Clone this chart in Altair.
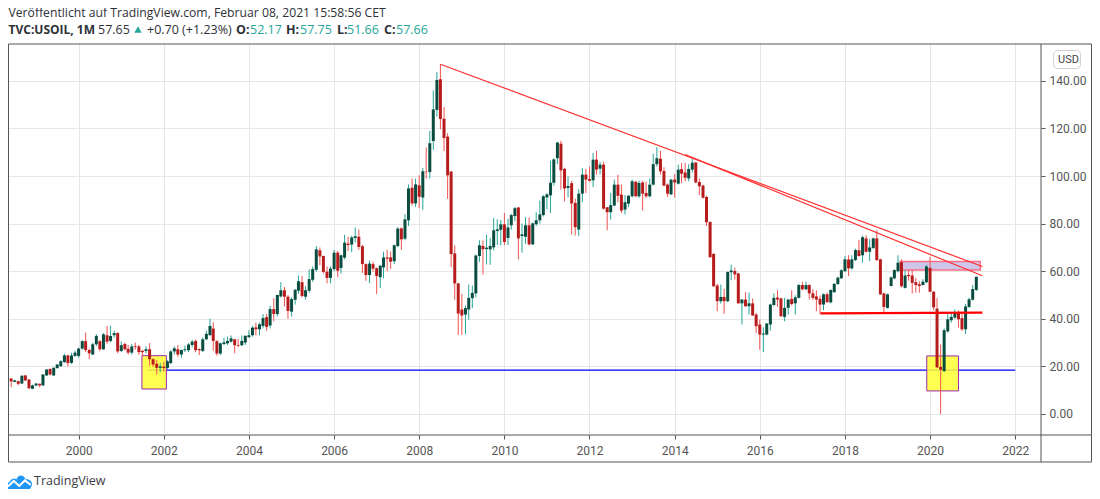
import altair as alt
import pandas as pd

# Monthly candles, May 1998 .. Feb 2021
opens = [
 15.6,14.9,13.5,13.8,12.8,16.2,14.5,10.6,
 12,12.7,12,16.2,18.9,16.2,19.3,20.1,21.8,24.6,21.5,24.4,
 24.4,27.5,30.6,26.9,25,29.3,30.6,27.2,33.1,30.7,33.1,34,
 26.5,29.4,27.4,25.8,28.6,28.4,26.5,26.5,27.2,23,21.1,19.4,
 19.9,19.3,21.4,26.3,27.2,25,26.8,26.8,29,30.7,27.3,26.5,
 31.4,33.1,35.9,30.6,25.4,29.4,29.7,30.4,31.4,29,28.9,30,
 32.3,33.1,36.4,35.6,37,40.7,37.2,44.1,42,49.4,52,49.3,
 43,48,51.8,55.4,49.3,51.8,56.4,60.6,68.8,66.4,59.8,57.2,
 60.9,67.8,61.4,65.7,71.6,71.2,74,74.5,70.5,63,58.4,63,
 61.3,57.5,61.6,65.8,65.8,64.2,70.6,78,73.7,81.4,95.1,88.5,
 96.1,91,101.8,101.7,114.7,127.8,140.7,124.1,116.6,101.9,67.5,54.9,
 43.9,41.8,43.9,48.7,50.7,66.4,70.6,69.3,69.2,70,76.9,77.4,
 79.7,74,79.3,83.2,86.8,74.8,74.5,79.3,71.3,79.8,81.4,83.6,
 91,91.9,97.2,107.5,113.6,103,95,97,88.7,77.5,92.6,100.6,
 98.7,98.2,106.9,103.1,104.8,86.9,84.8,87.6,96.4,92.2,85.9,88.4,
 91.5,97.6,91.5,97.3,92.9,91.5,96.4,105,107.3,102.1,96.4,92.3,
 98.5,96.8,102.9,101.5,99,102.7,105.7,97.5,96,91.2,80.7,67.3,
 54,47.4,49.2,47.4,59.6,60.1,59.1,46.5,48.1,45.3,46.5,41.8,
 37.6,33.4,33.4,37.6,45.8,48.9,48.6,40.8,44.6,48.4,46.5,48.8,
 54.2,52.4,54.2,50.7,49.4,48.4,46,50.3,46.9,51.2,54.6,57,
 60,64.9,61.2,64.7,68.8,66.7,73.8,68.2,69.8,73.8,65,50.7,
 44.6,53.8,57,60,63.8,53,58.5,58.2,55.4,54.5,54.2,55.4,
 61.4,51.4,44.3,19.8,18,34.7,39.4,40.5,42.7,40.3,35.6,45,
 48,52.17]
closes = [
 14.5,13.7,14.1,12.7,16.1,14.1,10.8,12,
 12.8,12,16.6,18.7,16.6,19.4,20.8,22.2,24.6,21.4,24.6,25.8,
 27.5,30.6,26.9,25.5,29.3,32.8,27.2,33.5,30.4,32.8,34,26.3,
 28.9,27.2,25.8,28.4,28.3,26,26,27.2,23,20.8,19.4,20,
 19.3,22.1,26.3,27.6,25,26.9,27.2,29.2,30.4,26.8,26.8,31.4,
 33.7,37,30.7,25.4,29.7,30.1,30.7,31.8,28.9,28.7,30.7,32.8,
 33.1,36.3,35.6,37.7,40.3,36.6,44.1,42,50,52,49.3,43.3,
 48.3,52.2,55.8,49.6,52,56.7,60.9,69.2,66.2,59.7,57.2,61.1,
 67.8,60.2,66.7,72,71,74.2,74.7,70.2,63,58.4,63.2,61.1,
 58,62.3,65.8,65.3,64,70.9,77.9,73.4,81.8,94.8,88.5,96.5,
 91.3,102,101.6,113.8,128,140.4,124,116,100.3,67.2,54.9,42.2,
 41.4,44.5,48.8,50.9,66.6,70.9,69.2,69.9,70.6,77.2,77.6,79.7,
 72.3,78.4,83.6,86.5,73.8,75.5,79.3,71.3,80.1,81.4,83.9,91.5,
 92.3,97.2,107,114.1,102.4,94.8,95.8,88.5,78.5,92.6,100.6,98.5,
 98,106.9,102.7,104.8,86.3,84.8,87.8,96.4,91.7,85.5,89,91.7,
 97.8,91.5,97.1,92.6,91.5,96.4,105,107.5,102,96,92.6,98.5,
 97.3,102.7,101,99.3,103,105.6,97.3,95.7,90.9,80.6,65.9,53.7,
 47.4,49.2,47.4,59.7,60.3,58.7,46.5,48.1,45.3,46.5,41.4,36.9,
 33.4,33.8,38,46,48.8,48.1,41.1,44.6,48.1,46.2,49,54.2,
 52.4,54.2,50.7,48.8,48.1,46,50.3,47,52.1,54.7,57.3,60.4,
 65,61.2,65,68.9,66.4,74.3,68.2,70,73.8,64.7,50.3,45,
 50.3,57.4,60.5,63.6,53.7,58.2,57.9,55.1,54.2,53.8,55.6,62,
 51.4,44.8,19.6,18.6,35.2,39.8,40.8,42.7,39.8,35.6,45.2,48.2,
 52.5,57.66]
highs = [
 15.9,15.1,14.4,14,16.2,16.4,14.6,12.3,
 13.1,12.8,16.8,18.9,19.2,19.6,21,22.6,25.3,25,25.7,26.6,
 27.9,31,34.2,27.5,29.9,33.6,31,34,37,37.1,35,34.4,
 30.5,30,29,29.5,30,29,27,28.5,29.8,23.5,22.7,21.5,
 22,22.6,26.8,28.5,29,27.1,28.7,29.8,31.2,31.3,27.6,32.2,
 35,40,38.5,31,30,32,32.5,33,31.5,31.5,33,33.2,
 35.2,37,38.4,38.4,42,42,45.5,48.7,50.2,55.4,53.4,50,
 49,52.5,58.2,58,53.8,60.8,62,70.6,70,66.6,62,62,
 69,68.5,67,75.3,74.5,74.9,78.3,77.5,71,63.3,64.5,64,
 61.5,62.6,68.2,69,68.3,71.2,78.5,78.4,84,96.5,99,99,
 100.3,103.4,112,119,136,143.7,147,129,118,102,70.8,55,
 50.5,45.5,54.4,54,67,73,73,75.4,74,82.3,81.8,81.5,
 84.5,82,84.2,87,87,80,82.7,82.6,80.5,84.8,89.7,92,
 92.8,106.5,107.5,114.3,114.8,103.5,99.8,98,90.5,94.5,103.4,103,
 104,109.7,110.6,106,106,87,92.9,98.5,100.6,96.4,92,92,
 98.5,98,98,98,97.6,99,109.4,112.2,110.6,103.7,96.9,98.8,
 100.8,104.8,105.5,105.5,105,107.5,106,99,96.4,91.8,81,67.5,
 54.7,54.4,52.6,59.9,62.8,61.5,59.3,48.3,51.2,51,48.6,42.5,
 39.7,36.5,38.3,46.4,50.7,52,48.9,48.8,48.4,52,49.9,54.7,
 55.6,55.6,54.5,52.4,52,49.8,50.7,51,52.4,55,57.7,60.8,
 66.4,66.7,66.7,69.5,73.1,74.9,75.1,73.5,74.1,77.2,65.3,51,
 50.6,57.8,60.8,66.7,65,60.5,60.5,60.7,57.2,55.8,56.7,62.7,
 66,51.6,48.7,29.2,35.9,41.9,42.5,44,43.6,42.5,46.2,48.9,
 54.2,57.75]
lows = [
 14.4,11.3,13.4,12.1,12.7,13.9,10.6,10.4,
 11.6,11.2,11.9,16,16.2,16,19,19.8,21.5,20,21,24,
 23.6,27,26,23,24.8,28.5,26.5,27,29.5,30,32,25.5,
 26,26.7,25,25,27,25,24.5,25.5,20.3,19.8,16.6,17.5,
 17.8,19,21,25,24,23.6,26,26,28,26,24.8,26,
 31,33,26.6,24.5,24.8,29,29,30,25.5,28,28.5,29,
 32,32.5,33,33,36,35,36,39,41,49,45.2,40,
 41,46,50.5,49,48,51,55.5,59.8,62.5,59,54.9,55,
 60,57.5,59,65,68.5,68,72,69,59.3,56,55,59.8,
 50.4,53,57,60,61,63,70,69,73,79,87.6,87,
 86.5,85.8,98.9,99,111,125,119.7,110.5,90.4,61.7,48,33.3,
 33.3,33.5,39.6,44.5,49,63.9,58.6,62.8,62.7,68.8,71,70.8,
 71,71,77.5,81,65,67.8,71.5,70.8,71,79,80,83,
 86,84.5,96,105,94.3,89.4,91,75.4,75,74.7,89,92.9,
 97.8,95.4,100.6,100.8,86,77.2,81.7,87.3,89,84.5,83.8,87,
 91,91.2,90.8,85.5,90.8,91,96,104,100.6,95.7,91.2,92,
 91,96.4,97,97.8,97.8,101.5,97,92,90.5,79,65.6,53.4,
 43.2,46.4,42.1,47,56.2,56.5,46.4,37.6,45,41.8,41.2,34,
 27,26,33,35,45.4,45,40.8,39,41.8,45.6,41.8,48.6,
 52,52,48.1,48,43.2,42.1,43.6,46.7,46.5,50.9,54.3,56.9,
 59.8,58,60.7,64.3,66.1,63.6,67.8,64.3,69.3,64.3,50,42.5,
 44.3,53.6,56.7,59.5,53.2,52.7,56,50.7,51,51,54,55,
 51.2,43.6,19.3,0,17.7,34.2,38.4,40,36.3,34.9,33.6,44.6,
 47.7,51.66]

dates = pd.date_range("1998-05-01", periods=len(closes), freq="MS").strftime("%Y-%m-%d").tolist()

# Drawings on the chart
red_lines = [
 {"d1": "2008-07-01", "d2": "2021-03-25", "p1": 147.0, "p2": 62.0},
 {"d1": "2014-04-01", "d2": "2021-03-25", "p1": 109.0, "p2": 58.1},
]
support_line = [{"d1": "2017-06-04", "d2": "2021-03-25", "p1": 42.3, "p2": 42.6}]
blue_line = [{"d1": "2001-08-15", "d2": "2022-01-01", "p1": 18.46, "p2": 18.46}]
yellow_boxes = [
 {"d1": "2001-06-27", "d2": "2002-01-23", "p1": 24.5, "p2": 10.5},
 {"d1": "2019-12-04", "d2": "2020-09-01", "p1": 24.4, "p2": 9.7},
]
pink_box = [{"d1": "2019-04-20", "d2": "2021-03-07", "p1": 64.1, "p2": 60.5}]

y_ticks = [0, 20, 40, 60, 80, 100, 120, 140]

header_line = "Veröffentlicht auf TradingView.com, Februar 08, 2021 15:58:56 CET"
TEAL = "#26a69a"
DARK = "#2e3138"
quote_parts = [
 ("TVC:USOIL, 1M", 8.5, True, DARK, 12), ("57.65", 98, False, DARK, 12.5),
 ("+0.70 (+1.23%)", 147, False, DARK, 12.5), ("O:", 236, True, DARK, 12.5), ("52.17", 250, False, TEAL, 12.5),
 ("H:", 286, True, DARK, 12.5), ("57.75", 300, False, TEAL, 12.5), ("L:", 337, True, DARK, 12.5),
 ("51.66", 347, False, TEAL, 12.5), ("C:", 384, True, DARK, 12.5), ("57.66", 396, False, TEAL, 12.5),
]

UI_FONT = "Open Sans"
AX_FONT = "Roboto"
X0, Y0 = 8, 44   # page position of the plot's origin
W, H = 1033, 391

xs = alt.Scale(type="utc", domain=["1998-05-05", "2022-08-10"], nice=False, padding=0)
ys = alt.Scale(domain=[-8.83, 155.5], nice=False, zero=False)

x_axis = alt.Axis(
    format="%Y", tickCount=alt.TickCount(interval="year", step=2), grid=True, gridColor="#e6e6e6",
    gridWidth=1, domain=False, tickColor="#555555", tickSize=4, labelPadding=6, title=None,
    labelFont=AX_FONT, labelFontSize=12, labelColor="#555555", labelOverlap=False)
y_axis = alt.Axis(
    orient="right", values=y_ticks, format=".2f", grid=True, gridColor="#e6e6e6", gridWidth=1,
    domain=False, tickColor="#555555", tickSize=4, labelPadding=4, title=None,
    labelFont=AX_FONT, labelFontSize=12, labelColor="#555555")

df = pd.DataFrame({"d": dates, "o": opens, "h": highs, "l": lows, "c": closes})
df["wick"] = [("#26a69a" if c >= o else "#ef5350") for o, c in zip(opens, closes)]
df["body"] = [("#0a4d40" if c >= o else "#b71c1c") for o, c in zip(opens, closes)]


def spans(rows):
    return alt.Chart(alt.Data(values=rows)).transform_calculate(
        a="toDate(datum.d1)", b="toDate(datum.d2)")


def rule_layer(rows, color, width):
    return spans(rows).mark_rule(color=color, strokeWidth=width).encode(
        x=alt.X("a:T", scale=xs, axis=x_axis), x2="b:T",
        y=alt.Y("p1:Q", scale=ys, axis=y_axis), y2="p2:Q")


def box_layer(rows, fill, stroke, fo, sw):
    return spans(rows).mark_rect(fill=fill, stroke=stroke, fillOpacity=fo, strokeWidth=sw).encode(
        x=alt.X("a:T", scale=xs, axis=x_axis), x2="b:T",
        y=alt.Y("p1:Q", scale=ys, axis=y_axis), y2="p2:Q")


one = pd.DataFrame({"a": [0]})


def label(text, px, py, size=12, bold=False, color=DARK, font=UI_FONT):
    return alt.Chart(one).mark_text(
        text=text, align="left", baseline="middle", fontSize=size, font=font,
        fontWeight="bold" if bold else "normal", color=color,
    ).encode(x=alt.value(px - X0), y=alt.value(py - Y0))


def frame(x1, x2, y1, y2):
    return alt.Chart(one).mark_rule(color="#555555", strokeWidth=1).encode(
        x=alt.value(x1 - X0), x2=alt.value(x2 - X0), y=alt.value(y1 - Y0), y2=alt.value(y2 - Y0))


wicks = alt.Chart(df).mark_rule(strokeWidth=1).encode(
    x=alt.X("d:T", scale=xs, axis=x_axis),
    y=alt.Y("h:Q", scale=ys, axis=y_axis), y2="l:Q",
    color=alt.Color("wick:N", scale=None))
bodies = alt.Chart(df).mark_bar(size=3).encode(
    x=alt.X("d:T", scale=xs, axis=x_axis),
    y=alt.Y("o:Q", scale=ys, axis=y_axis), y2="c:Q",
    color=alt.Color("body:N", scale=None))

header = [label(header_line, 8.5, 13, size=12.2)]
for text, px, bold, color, size in quote_parts:
    header.append(label(text, px, 30, size=size, bold=bold, color=color))
triangle = alt.Chart(one).mark_point(shape="triangle-up", filled=True, color=TEAL, size=55, opacity=1).encode(
    x=alt.value(138 - X0), y=alt.value(29.5 - Y0))

usd_box = alt.Chart(one).mark_rect(fill="white", stroke="#d0d0d4", cornerRadius=4).encode(
    x=alt.value(1053.5 - X0), x2=alt.value(1080.5 - X0), y=alt.value(50.5 - Y0), y2=alt.value(68.5 - Y0))
usd_text = label("USD", 1058, 59.5, size=11, color="#444444", font=AX_FONT)

cloud = alt.Chart(one).mark_point(
    shape="M-0.8,0.55 C-1.05,0.55 -1.05,0.05 -0.72,0 C-0.6,-0.3 -0.3,-0.3 -0.2,-0.2 C-0.1,-0.6 0.4,-0.6 0.5,-0.2 C0.9,-0.25 1.1,0.1 0.95,0.35 C0.9,0.5 0.85,0.55 0.75,0.55 Z",
    filled=True, color="#2196f3", size=676, opacity=1,
).encode(x=alt.value(19 - X0), y=alt.value(482 - Y0))
zigzag = alt.Chart(one).mark_point(
    shape="M-0.85,0.35 L-0.4,-0.08 L0.02,0.3 L0.45,-0.12 L0.9,0.22",
    filled=False, color="white", size=676, opacity=1, strokeWidth=2,
).encode(x=alt.value(19 - X0), y=alt.value(482 - Y0))
brand = label("TradingView", 34, 481, size=12.5, color="#3a3d45")

layers = [
    rule_layer(blue_line, "#0000ff", 1.2),
    box_layer(yellow_boxes, "#ffff33", "#9c27b0", 0.85, 1),
    box_layer(pink_box, "#c5bde6", "#ff6f86", 0.85, 1.5),
    wicks, bodies,
    rule_layer(red_lines, "#ff3030", 1.2),
    rule_layer(support_line, "#ff0000", 2.2),
    frame(8.5, 1091.5, 44, 44), frame(8.5, 1091.5, 435, 435), frame(8.5, 1091.5, 462, 462),
    frame(8.5, 8.5, 44, 462), frame(1041, 1041, 44, 462), frame(1091.5, 1091.5, 44, 462),
    usd_box, usd_text, triangle, cloud, zigzag, brand,
] + header

chart = alt.layer(*layers).resolve_scale(color="independent").properties(
    width=W, height=H,
    autosize=alt.AutoSizeParams(type="none"),
    padding={"left": 0, "top": 36, "right": 51, "bottom": 54},
    background="white",
).configure_view(stroke=None)

chart.save("out.html", embed_options={"renderer": "svg", "actions": False})
